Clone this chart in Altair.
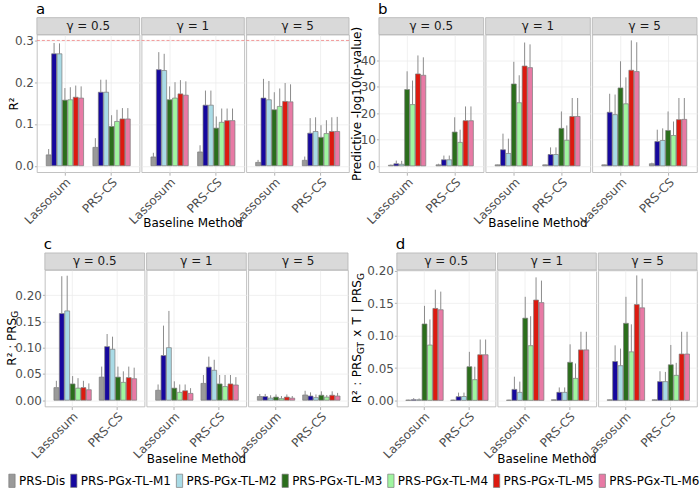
import altair as alt
import pandas as pd

FONT = "DejaVu Sans"

methods = ["PRS-Dis", "PRS-PGx-TL-M1", "PRS-PGx-TL-M2", "PRS-PGx-TL-M3",
           "PRS-PGx-TL-M4", "PRS-PGx-TL-M5", "PRS-PGx-TL-M6"]
method_colors = ["#9a9a9a", "#16089e", "#a9dbe6", "#2b6e1c", "#a0f5a0", "#dd1a10", "#e87aa5"]
baselines = ["Lassosum", "PRS-CS"]
gammas = ["0.5", "1", "5"]

a_g05_mean = [0.026, 0.268, 0.268, 0.157, 0.158, 0.164, 0.162, 0.044, 0.176, 0.176, 0.094, 0.106, 0.112, 0.112]
a_g05_up = [0.040, 0.294, 0.293, 0.186, 0.188, 0.192, 0.190, 0.066, 0.206, 0.206, 0.121, 0.134, 0.138, 0.138]
a_g1_mean = [0.021, 0.230, 0.228, 0.158, 0.162, 0.172, 0.169, 0.033, 0.145, 0.145, 0.090, 0.104, 0.108, 0.108]
a_g1_up = [0.031, 0.272, 0.268, 0.190, 0.200, 0.205, 0.202, 0.049, 0.180, 0.180, 0.118, 0.137, 0.137, 0.137]
a_g5_mean = [0.008, 0.162, 0.158, 0.134, 0.142, 0.154, 0.153, 0.013, 0.078, 0.082, 0.068, 0.077, 0.082, 0.082]
a_g5_up = [0.014, 0.208, 0.203, 0.176, 0.185, 0.198, 0.195, 0.022, 0.114, 0.116, 0.097, 0.109, 0.116, 0.117]
a_ref_line = 0.3

b_g05_mean = [0.25, 0.8, 0.6, 28.9, 23.2, 34.8, 34.3, 0.4, 2.3, 2.3, 12.8, 8.9, 17.1, 17.1]
b_g05_up = [0.5, 2.0, 1.9, 35.8, 32.3, 41.8, 41.1, 0.8, 3.9, 3.9, 18.4, 13.7, 22.5, 22.5]
b_g1_mean = [0.4, 6.1, 4.7, 31.0, 23.9, 37.8, 37.2, 0.4, 4.3, 4.3, 14.2, 9.7, 18.7, 18.7]
b_g1_up = [0.5, 12.2, 10.3, 39.4, 34.3, 46.7, 46.0, 0.5, 7.0, 7.0, 20.6, 15.3, 25.7, 25.7]
b_g5_mean = [0.4, 20.3, 19.4, 29.5, 23.5, 36.2, 35.7, 0.8, 9.2, 9.6, 13.4, 11.5, 17.5, 17.6]
b_g5_up = [0.5, 27.3, 27.0, 39.6, 33.5, 47.5, 46.8, 1.2, 13.7, 14.2, 20.6, 16.8, 25.7, 25.7]

c_g05_mean = [0.024, 0.165, 0.170, 0.031, 0.023, 0.024, 0.020, 0.044, 0.102, 0.097, 0.044, 0.034, 0.043, 0.041]
c_g05_up = [0.037, 0.236, 0.237, 0.046, 0.042, 0.037, 0.032, 0.064, 0.126, 0.121, 0.064, 0.055, 0.064, 0.062]
c_g1_mean = [0.019, 0.085, 0.100, 0.023, 0.015, 0.018, 0.013, 0.032, 0.063, 0.057, 0.031, 0.026, 0.031, 0.029]
c_g1_up = [0.030, 0.142, 0.170, 0.036, 0.030, 0.030, 0.023, 0.048, 0.083, 0.077, 0.048, 0.048, 0.048, 0.044]
c_g5_mean = [0.007, 0.007, 0.004, 0.006, 0.003, 0.006, 0.004, 0.010, 0.008, 0.005, 0.0095, 0.006, 0.0095, 0.008]
c_g5_up = [0.012, 0.012, 0.0095, 0.011, 0.008, 0.011, 0.008, 0.018, 0.015, 0.011, 0.017, 0.010, 0.017, 0.014]

d_g05_mean = [0.0005, 0.001, 0.001, 0.118, 0.0855, 0.142, 0.140, 0.0005, 0.0057, 0.006, 0.052, 0.032, 0.0705, 0.0705]
d_g05_up = [0.001, 0.0035, 0.003, 0.146, 0.125, 0.171, 0.168, 0.001, 0.012, 0.012, 0.075, 0.052, 0.094, 0.094]
d_g1_mean = [0.0005, 0.017, 0.0124, 0.127, 0.0845, 0.155, 0.151, 0.001, 0.0124, 0.0124, 0.0588, 0.034, 0.078, 0.078]
d_g1_up = [0.001, 0.0366, 0.029, 0.160, 0.130, 0.190, 0.185, 0.0015, 0.020, 0.020, 0.0866, 0.057, 0.106, 0.106]
d_g5_mean = [0.001, 0.060, 0.0536, 0.119, 0.075, 0.148, 0.143, 0.001, 0.029, 0.029, 0.055, 0.0387, 0.0716, 0.0716]
d_g5_up = [0.0015, 0.085, 0.080, 0.160, 0.1175, 0.193, 0.188, 0.0015, 0.045, 0.044, 0.0856, 0.058, 0.106, 0.106]

CW = {"R": 0.695, "²": 0.401, ":": 0.337, "P": 0.603, "S": 0.635, "G": 0.775,
      "T": 0.611, "x": 0.592, "|": 0.337}


def tw(s, size):
    return sum(CW.get(ch, 0.6) for ch in s) * size


dummy = pd.DataFrame({"d": [0]})

legend = alt.Legend(
    title=None, orient="none", legendX=-31, legendY=441, direction="horizontal",
    labelFontSize=12, labelFont=FONT, labelColor="black",
    symbolType="M-0.9,-1.9L0.9,-1.9L0.9,1.9L-0.9,1.9Z", symbolSize=49,
    symbolStrokeColor="#7a7a7a", symbolStrokeWidth=0.7, symbolOpacity=1,
    columnPadding=2, labelOffset=1, padding=0,
)


def text_layer(txt, x, y, size=12, align="center", baseline="middle", angle=0, color="black"):
    return alt.Chart(dummy).mark_text(
        text=txt, fontSize=size, font=FONT, align=align, baseline=baseline,
        angle=angle, color=color,
    ).encode(x=alt.value(x), y=alt.value(y))


def ytitle(segments, xc, yc):
    total = sum(tw(s, sz) + gap for s, sz, dx, gap in segments)
    y = yc + total / 2
    out = []
    for s, sz, dx, gap in segments:
        y -= gap
        out.append(text_layer(s, xc + dx, y, size=sz, align="left", baseline="middle", angle=270))
        y -= tw(s, sz)
    return out


def cells_for(letter, means, ups, w, h, ydom, yvals, yfmt, left_pad, top_pad, title_x,
              axis_title=None, title_segs=None, ref=None, xtitle_dy=47):
    cells = []
    for gi, g in enumerate(gammas):
        df = pd.DataFrame({
            "baseline": [b for b in baselines for _ in methods],
            "method": methods * 2,
            "value": means[gi],
            "upper": ups[gi],
        })
        first = gi == 0
        xenc = alt.X("baseline:N", sort=baselines,
                     scale=alt.Scale(domain=baselines, paddingInner=0.2, paddingOuter=0.2),
                     axis=alt.Axis(title=None, labelAngle=315, labelAlign="right", labelBaseline="top",
                                   labelFontSize=12, labelFont=FONT, labelColor="#4d4d4d",
                                   tickColor="#b3b3b3", tickSize=3, domain=False, grid=True,
                                   gridColor="#ececec", gridWidth=0.8, labelPadding=1))
        xoff = alt.XOffset("method:N", sort=methods,
                           scale=alt.Scale(domain=methods, paddingInner=0.1))
        ax = dict(values=yvals, format=yfmt, labels=first, ticks=first,
                  domain=False, grid=True, gridColor="#ececec", gridWidth=0.8,
                  labelFontSize=12, labelFont=FONT, labelColor="#4d4d4d",
                  labelOverlap=False, labelFlush=False,
                  tickColor="#b3b3b3", tickSize=2.5, labelPadding=1)
        if first and axis_title is not None:
            ax.update(title=axis_title, titleAngle=270, titleX=title_x, titleY=h / 2,
                      titleAlign="center", titleBaseline="middle", titleFont=FONT,
                      titleFontSize=12, titleFontWeight="normal", titleColor="black")
        else:
            ax.update(title=None)
        yaxis = alt.Axis(**ax)
        yscale = alt.Scale(domain=ydom, nice=False, zero=False)
        ytitle_val = axis_title if (first and axis_title is not None) else None
        base = alt.Chart(df)
        bars = base.mark_bar(stroke="#7a7a7a", strokeWidth=0.7).encode(
            x=xenc, xOffset=xoff,
            y=alt.Y("value:Q", title=ytitle_val, scale=yscale, axis=yaxis), y2=alt.Y2(datum=0),
            color=alt.Color("method:N", scale=alt.Scale(domain=methods, range=method_colors),
                            legend=legend),
        )
        errs = base.mark_rule(color="#8c8c8c", strokeWidth=1).encode(
            x=xenc, xOffset=xoff,
            y=alt.Y("value:Q", title=ytitle_val, scale=yscale, axis=yaxis),
            y2=alt.Y2("upper:Q", title=None),
        )
        layers = [bars, errs]
        if ref is not None:
            layers.append(alt.Chart(dummy).mark_rule(color="#f08080", strokeDash=[3, 2], strokeWidth=0.8)
                          .encode(y=alt.Y(datum=ref, title=ytitle_val, scale=yscale, axis=yaxis)))
        strip = alt.Chart(dummy).mark_rect(fill="#d9d9d9", stroke="#b3b3b3", strokeWidth=0.8).encode(
            x=alt.value(0), x2=alt.value(w), y=alt.value(-17), y2=alt.value(0))
        layers.append(strip)
        layers.append(text_layer("γ = " + g, w / 2, -8.5, size=12, color="#1a1a1a"))
        if first:
            layers.append(alt.Chart(dummy).mark_rect(opacity=0).encode(
                x=alt.value(-left_pad), x2=alt.value(w), y=alt.value(-top_pad), y2=alt.value(0)))
            layers.append(text_layer(letter, -1, -21, size=15, align="left", baseline="alphabetic"))
            if title_segs is not None:
                layers.extend(ytitle(title_segs, title_x, h / 2))
        if gi == 1:
            layers.append(text_layer("Baseline Method", w / 2, h + xtitle_dy, size=12, baseline="top"))
        cells.append(alt.layer(*layers).properties(width=w, height=h))
    return cells


def blank(w, h):
    return alt.Chart(dummy).mark_rect(opacity=0).encode(
        x=alt.value(0), x2=alt.value(1), y=alt.value(0), y2=alt.value(1)
    ).properties(width=w, height=h, view=alt.ViewBackground(stroke=None))


ca = cells_for("a", [a_g05_mean, a_g1_mean, a_g5_mean], [a_g05_up, a_g1_up, a_g5_up],
               103, 138, [-0.0155, 0.314], [0, 0.1, 0.2, 0.3], ".1f", 36, 33, -23.5,
               axis_title="R²", ref=a_ref_line, xtitle_dy=46)
cb = cells_for("b", [b_g05_mean, b_g1_mean, b_g5_mean], [b_g05_up, b_g1_up, b_g5_up],
               105, 138, [-2.4, 49.7], [0, 10, 20, 30, 40], "d", 29, 33, -22,
               axis_title="Predictive -log10(p-value)", xtitle_dy=46)
cc = cells_for("c", [c_g05_mean, c_g1_mean, c_g5_mean], [c_g05_up, c_g1_up, c_g5_up],
               100, 137, [-0.012, 0.248], [0, 0.05, 0.10, 0.15, 0.20], ".2f", 44, 35, -33,
               title_segs=[("R²", 12, 0, 0), (":", 12, 0, 3.8), ("PRS", 12, 0, 3.8), ("G", 9, 3.5, 0)],
               xtitle_dy=48)
cd = cells_for("d", [d_g05_mean, d_g1_mean, d_g5_mean], [d_g05_up, d_g1_up, d_g5_up],
               99, 137, [-0.0095, 0.2015], [0, 0.05, 0.10, 0.15, 0.20], ".2f", 47, 35, -39.5,
               title_segs=[("R²", 12, 0, 0), (":", 12, 0, 4.5), ("PRS", 12, 0, 4.5), ("GT", 9, 3.5, 0),
                           ("x", 12, 0, 5), ("T", 12, 0, 5), ("|", 12, 0, 5), ("PRS", 12, 0, 5),
                           ("G", 9, 3.5, 0)],
               xtitle_dy=48)

row1 = alt.hconcat(*ca, blank(26, 138), *cb, spacing=2, bounds="flush")
row2 = alt.hconcat(blank(6, 137), *cc, blank(45, 137), *cd, spacing=2, bounds="flush")

chart = alt.vconcat(row1, row2, spacing=4).properties(
    padding={"left": 0, "top": 0, "right": 0, "bottom": 0},
).configure(font=FONT).configure_view(stroke="#b3b3b3", strokeWidth=0.8)

chart.save("out.html", embed_options={"renderer": "svg", "actions": False})
